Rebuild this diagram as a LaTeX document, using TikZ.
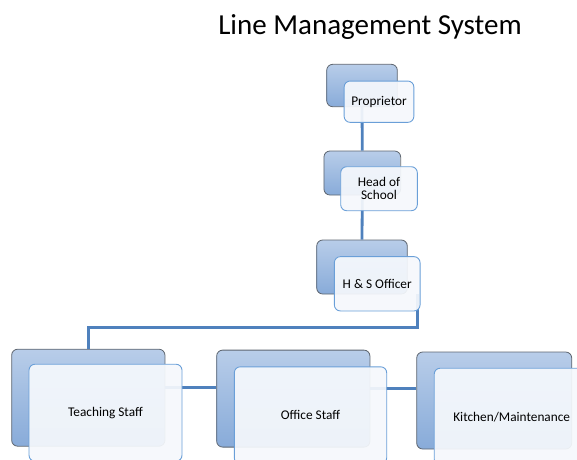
\documentclass[tikz,border=0pt]{standalone}
\usepackage{fontspec}
\setmainfont{Carlito}
\usepackage{tikz}
\definecolor{boxtop}{HTML}{B8CDE9}
\definecolor{boxbot}{HTML}{88ABD9}
\definecolor{boxline}{HTML}{5E6670}
\definecolor{frontline}{HTML}{6A9FD8}
\definecolor{frontfill}{HTML}{F5F8FC}
\definecolor{linkblue}{HTML}{4F81BD}
\begin{document}
\begin{tikzpicture}[x=1pt,y=-1pt]
\tikzstyle{every node}+=[inner sep=0pt]
\tikzstyle{backbox}=[draw=boxline, line width=0.8pt, rounded corners=6pt, top color=boxtop, bottom color=boxbot]
\tikzstyle{frontbox}=[draw=frontline, line width=0.9pt, rounded corners=6pt, fill=frontfill, fill opacity=0.93, text opacity=1, align=center, font=\fontsize{13.3}{13}\selectfont]
\tikzstyle{link}=[draw=linkblue, line width=2.8pt]
\useasboundingbox (0,0) rectangle (577,459);
\clip (0,0) rectangle (577,459);
\node at (370,27) {\fontsize{29}{32}\selectfont Line Management System};
\node [backbox, minimum width=70.6pt, minimum height=42.4pt] (propB) at (362,85.5) {};
\node [backbox, minimum width=76.7pt, minimum height=44pt] (headB) at (362.3,173) {};
\node [backbox, minimum width=90.6pt, minimum height=54pt] (hsB) at (362,267) {};
\node [backbox, minimum width=153.3pt, minimum height=97pt] (teachB) at (88.3,397.7) {};
\node [backbox, minimum width=153.3pt, minimum height=97pt] (officeB) at (293.3,398.6) {};
\node [backbox, minimum width=155pt, minimum height=97pt] (kitchB) at (494.2,400.5) {};
\coordinate (hsdrop) at ([xshift=10pt]hsB.south east);
\draw [link] (propB.south) -- (headB.north);
\draw [link] (headB.south) -- (hsB.north);
\draw [link] (hsdrop) |- ([yshift=21pt]teachB.north) -- (teachB.north);
\draw [link] ([yshift=10pt]teachB.east) -- ([yshift=10pt]teachB.east -| officeB.west);
\draw [link] ([yshift=10pt]officeB.east) -- ([yshift=10pt]officeB.east -| kitchB.west);
\node [frontbox, minimum width=69.7pt, minimum height=41.3pt] (prop) at (379,101.7) {Proprietor};
\node [frontbox, minimum width=76.6pt, minimum height=44pt] (head) at (379,188.7) {Head of\\School};
\node [frontbox, minimum width=85.7pt, minimum height=54.3pt] (hs) at (377.2,283.8) {H \& S Officer};
\node [frontbox, minimum width=153pt, minimum height=97pt] (teach) at (105.5,412.7) {Teaching Staff};
\node [frontbox, minimum width=152.4pt, minimum height=97pt] (office) at (310.5,415.3) {Office Staff};
\node [frontbox, minimum width=155pt, minimum height=97pt] (kitch) at (511.7,416.7) {Kitchen/Maintenance};
\end{tikzpicture}
\end{document}
